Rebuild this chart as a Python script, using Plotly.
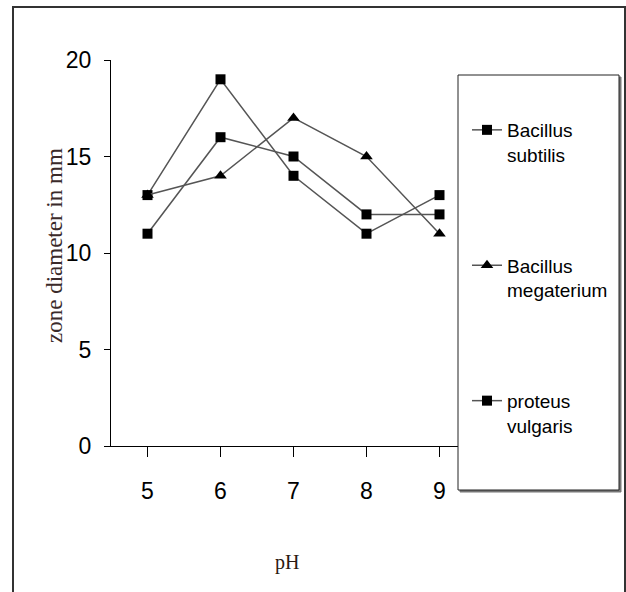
import plotly.graph_objects as go

ph = [5, 6, 7, 8, 9]
tick_labels = ["5", "6", "7", "8", "9"]
bacillus_subtilis = [13, 19, 14, 11, 13]
bacillus_megaterium = [13, 14, 17, 15, 11]
proteus_vulgaris = [11, 16, 15, 12, 12]
series_names = ["Bacillus<br>subtilis", "Bacillus<br>megaterium", "proteus<br>vulgaris"]

W, H = 626, 592
L, R, T, B = 111, 476, 60, 446  # plot area in px


def px_x(p):
    return (p - L) / (R - L)


def px_y(p):
    return (B - p) / (B - T)


SANS = "Liberation Sans, Arial, sans-serif"
SERIF = "Liberation Serif, Times New Roman, serif"

fig = go.Figure()
series = [
    (bacillus_subtilis, "square", 10),
    (bacillus_megaterium, "triangle-up", 11),
    (proteus_vulgaris, "square", 10),
]
for i, (vals, sym, sz) in enumerate(series):
    fig.add_trace(go.Scatter(
        x=ph, y=vals, mode="lines+markers", name=series_names[i],
        legendgroup=f"g{i}",
        line=dict(color="#555555", width=1.5),
        marker=dict(symbol=sym, size=sz, color="black", line=dict(width=0)),
    ))

shapes = [
    # outer frame
    dict(type="rect", xref="paper", yref="paper",
         x0=px_x(13), x1=px_x(625), y0=px_y(605), y1=px_y(7),
         line=dict(color="#333333", width=2), fillcolor="rgba(0,0,0,0)", layer="below"),
    # legend shadow
    dict(type="rect", xref="paper", yref="paper",
         x0=px_x(460), x1=px_x(621), y0=px_y(492), y1=px_y(77),
         line=dict(color="#777777", width=1), fillcolor="#777777", layer="above"),
    # legend box
    dict(type="rect", xref="paper", yref="paper",
         x0=px_x(458), x1=px_x(619), y0=px_y(490), y1=px_y(75),
         line=dict(color="#222222", width=1), fillcolor="white", layer="above"),
]

annotations = [
    dict(text="zone diameter in mm", xref="paper", yref="paper",
         x=px_x(54), y=px_y(246), xanchor="center", yanchor="middle",
         textangle=-90, showarrow=False,
         font=dict(family=SERIF, size=23, color="#3a2a2a")),
    dict(text="pH", xref="paper", yref="paper",
         x=px_x(287), y=px_y(562), xanchor="center", yanchor="middle",
         showarrow=False,
         font=dict(family=SERIF, size=20, color="#2a1a10")),
]

fig.update_layout(
    width=W, height=H,
    margin=dict(l=L, r=W - R, t=T, b=H - B, pad=0, autoexpand=False),
    paper_bgcolor="white", plot_bgcolor="white",
    showlegend=True,
    legend=dict(
        xref="container", yref="container",
        x=467 / W, y=1 - 111 / H, xanchor="left", yanchor="top",
        bgcolor="rgba(0,0,0,0)", borderwidth=0,
        font=dict(family=SANS, size=19, color="black"),
        tracegroupgap=83, valign="top", itemwidth=30,
        maxheight=560,
    ),
    shapes=shapes,
    annotations=annotations,
    xaxis=dict(
        range=[4.5, 9.5], tickmode="array", tickvals=ph, ticktext=tick_labels,
        tickson="boundaries", ticks="outside", ticklen=10, tickcolor="black",
        showline=True, linecolor="black", linewidth=1, showgrid=False, zeroline=False,
        tickfont=dict(family=SANS, size=23, color="black"),
        ticklabelstandoff=14, automargin=False,
    ),
    yaxis=dict(
        range=[0, 20], tickmode="array", tickvals=[0, 5, 10, 15, 20],
        ticks="outside", ticklen=6, tickcolor="black",
        showline=True, linecolor="black", linewidth=1, showgrid=False, zeroline=False,
        tickfont=dict(family=SANS, size=23, color="black"),
        ticklabelstandoff=8, automargin=False,
    ),
)

fig.write_html("out.html")
